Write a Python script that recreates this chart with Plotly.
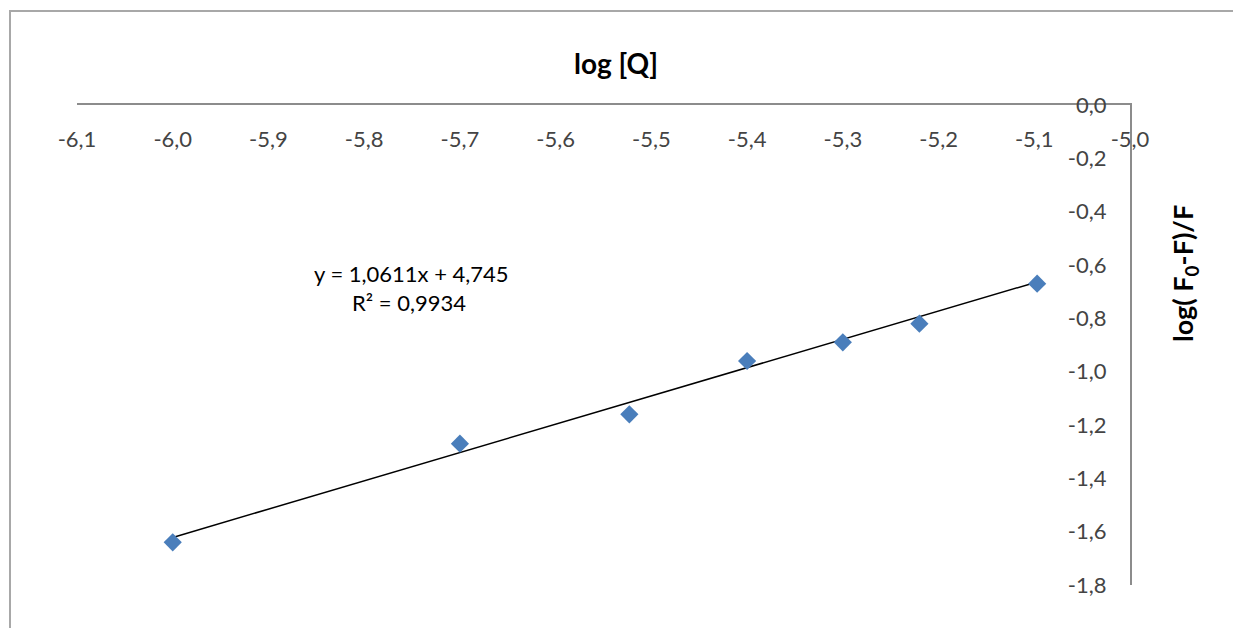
import plotly.graph_objects as go

# Data
log_q = [-6.0, -5.70, -5.523, -5.40, -5.30, -5.22, -5.097]
log_f = [-1.64, -1.27, -1.16, -0.96, -0.89, -0.82, -0.67]

# Trendline coefficients shown on the chart
slope = 1.0611
intercept = 4.745
r_squared_text = "0,9934"

x_tick_vals = [-6.1, -6.0, -5.9, -5.8, -5.7, -5.6, -5.5, -5.4, -5.3, -5.2, -5.1, -5.0]
x_tick_text = ["-6,1", "-6,0", "-5,9", "-5,8", "-5,7", "-5,6", "-5,5", "-5,4", "-5,3", "-5,2", "-5,1", "-5,0"]
y_tick_vals = [0.0, -0.2, -0.4, -0.6, -0.8, -1.0, -1.2, -1.4, -1.6, -1.8]
y_tick_text = ["0,0", "-0,2", "-0,4", "-0,6", "-0,8", "-1,0", "-1,2", "-1,4", "-1,6", "-1,8"]

FONT = "Lato"
W, H = 1241, 628
OFF = 8  # page body margin offset
# plot area in screen pixels
SX0, SX1, SY0, SY1 = 77, 1130, 105, 585
L = SX0 - OFF
R = W - (SX1 - OFF)
T = SY0 - OFF
B = H - (SY1 - OFF)

trend_x = [min(log_q), max(log_q)]
trend_y = [slope * v + intercept for v in trend_x]

fig = go.Figure()
fig.add_trace(go.Scatter(x=trend_x, y=trend_y, mode="lines",
                         line=dict(color="black", width=1.5), hoverinfo="skip", showlegend=False))
fig.add_trace(go.Scatter(x=log_q, y=log_f, mode="markers",
                         marker=dict(symbol="diamond", size=14, color="#4A7EBB", line=dict(width=0)),
                         showlegend=False))

pw = SX1 - SX0
ph = SY1 - SY0
def px_x(s):
    return (s - SX0) / pw
def px_y(s):
    return (SY1 - s) / ph

def ann(text, sx, sy, size, angle=0):
    return dict(text=text, x=px_x(sx), y=px_y(sy), xref="paper", yref="paper",
                xanchor="center", yanchor="middle", showarrow=False, textangle=angle,
                font=dict(size=size, family=FONT, color="black"))

fig.update_layout(
    width=W, height=H,
    margin=dict(l=L, r=R, t=T, b=B),
    paper_bgcolor="white", plot_bgcolor="white",
    font=dict(family=FONT, size=22, color="black"),
    xaxis=dict(side="top", range=[-6.1, -5.0], tickvals=x_tick_vals, ticktext=x_tick_text,
               ticklabelposition="inside", ticklabeloverflow="allow",
               ticks="inside", ticklen=28, tickcolor="rgba(0,0,0,0)",
               tickfont=dict(size=22),
               showline=True, linecolor="#8c8c8c", linewidth=2,
               showgrid=False, zeroline=False),
    yaxis=dict(side="right", range=[-1.8, 0.0], tickvals=y_tick_vals, ticktext=y_tick_text,
               ticklabelposition="inside", ticklabeloverflow="allow",
               ticks="inside", ticklen=25, tickcolor="rgba(0,0,0,0)",
               tickfont=dict(size=22),
               showline=True, linecolor="#8c8c8c", linewidth=2,
               showgrid=False, zeroline=False),
    annotations=[
        ann("<b>log [Q]</b>", 616, 63, 28),
        ann("<b>log( F<sub>0</sub>-F)/F</b>", 1184, 274, 27, -90),
        ann(f"y = {str(slope).replace('.', ',')}x + {str(intercept).replace('.', ',')}", 411, 273.5, 22),
        ann(f"R² = {r_squared_text}", 409, 302.5, 22),
    ],
    shapes=[
        dict(type="path", xref="paper", yref="paper",
             path=f"M {px_x(10)} {px_y(660)} L {px_x(10)} {px_y(11)} L {px_x(1260)} {px_y(11)}",
             line=dict(color="#a8a8a8", width=2)),
    ],
)

fig.write_html("out.html")
